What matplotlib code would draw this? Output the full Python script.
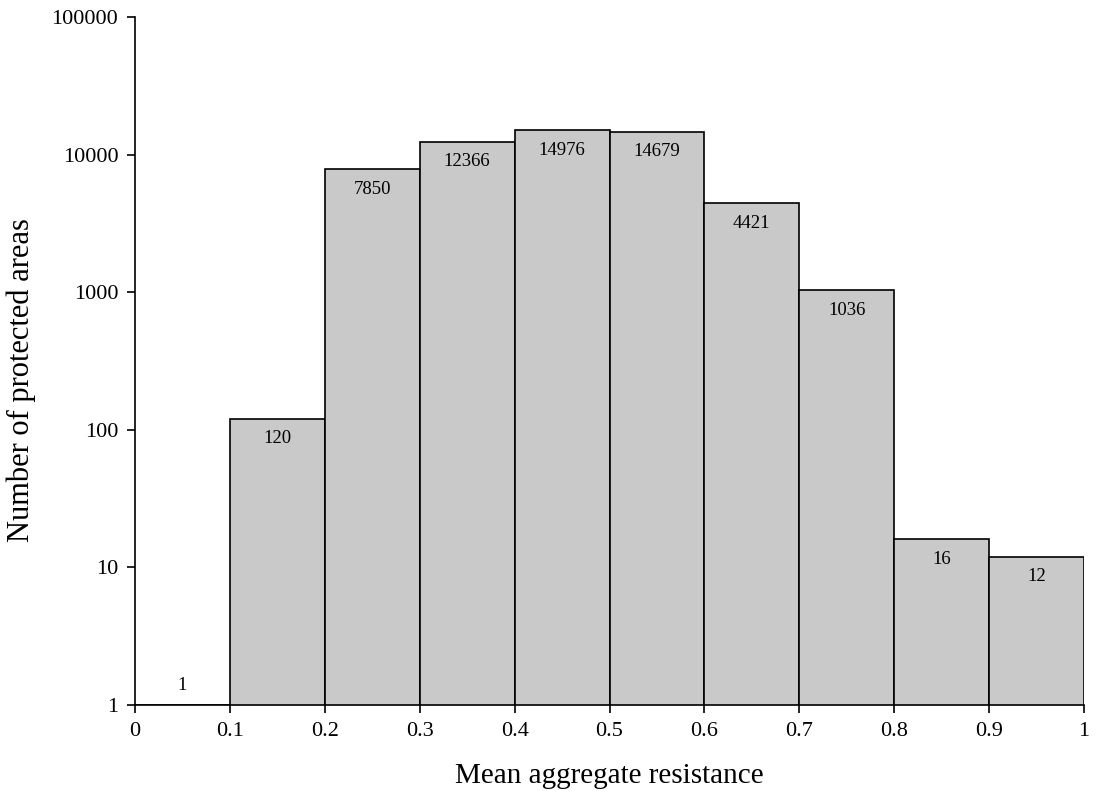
import matplotlib
matplotlib.use("Agg")
import matplotlib.pyplot as plt
from matplotlib.ticker import FixedLocator, FuncFormatter, NullLocator

plt.rcParams['font.family'] = ['Liberation Serif', 'DejaVu Serif']

bin_left = [0.0, 0.1, 0.2, 0.3, 0.4, 0.5, 0.6, 0.7, 0.8, 0.9]
counts = [1, 120, 7850, 12366, 14976, 14679, 4421, 1036, 16, 12]
x_ticks = [0, 0.1, 0.2, 0.3, 0.4, 0.5, 0.6, 0.7, 0.8, 0.9, 1]
x_tick_labels = ["0", "0.1", "0.2", "0.3", "0.4", "0.5", "0.6", "0.7", "0.8", "0.9", "1"]
y_ticks = [1, 10, 100, 1000, 10000, 100000]

fig = plt.figure(figsize=(10.99, 7.91), dpi=100)
ax = fig.add_axes([0.1228, 0.1087, 0.8636, 0.8698])

ax.bar(bin_left, counts, width=0.1, align='edge', color='#c9c9c9',
       edgecolor='black', linewidth=1.2)
ax.set_yscale('log')
ax.set_ylim(1, 100000)
ax.set_xlim(0, 1)

for xl, c in zip(bin_left, counts):
    off = 20 if c <= 1 else -20
    ax.annotate(str(c), (xl + 0.05, c), xytext=(0, off), textcoords='offset pixels',
                ha='center', va='center', fontsize=13.5)

ax.yaxis.set_major_locator(FixedLocator(y_ticks))
ax.yaxis.set_minor_locator(NullLocator())
ax.yaxis.set_major_formatter(FuncFormatter(lambda v, p: f"{int(round(v))}"))
ax.set_xticks(x_ticks)
ax.set_xticklabels(x_tick_labels)
ax.tick_params(axis='both', direction='out', length=6, width=1.2, labelsize=16)
ax.tick_params(axis='y', pad=6)
ax.tick_params(axis='x', pad=6)
ax.spines['top'].set_visible(False)
ax.spines['right'].set_visible(False)
for s in ['left', 'bottom']:
    ax.spines[s].set_linewidth(1.2)

ax.set_xlabel("Mean aggregate resistance", fontsize=21, labelpad=16)
ax.set_ylabel("Number of protected areas", fontsize=22)
ax.yaxis.set_label_coords(-0.104, 0.472)

fig.savefig("out.png", dpi=100)
